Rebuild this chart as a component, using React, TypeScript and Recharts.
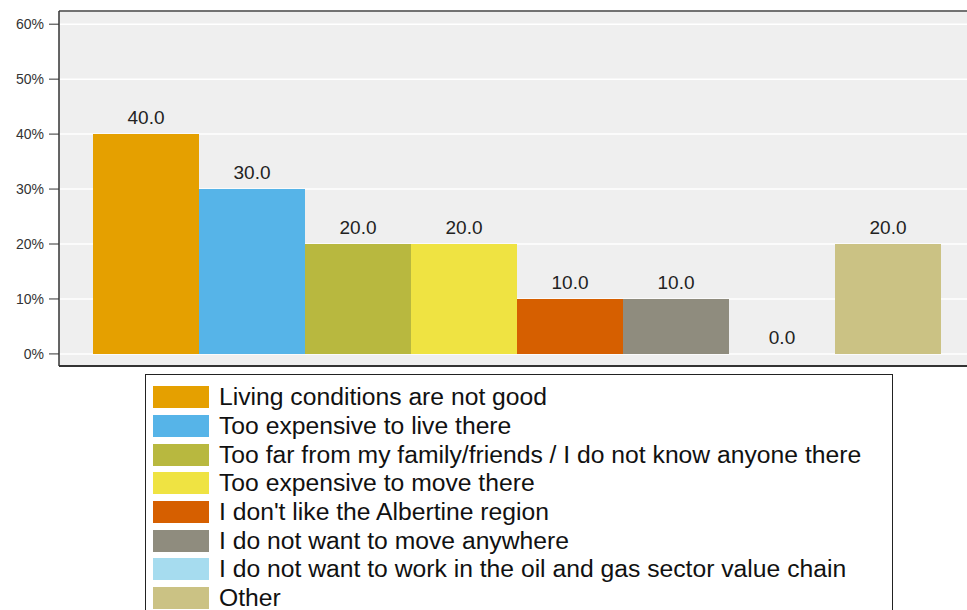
import { BarChart, Bar, XAxis, YAxis, CartesianGrid, Legend, LabelList, ReferenceLine } from "recharts"

const reasons = [
  "Living conditions are not good",
  "Too expensive to live there",
  "Too far from my family/friends / I do not know anyone there",
  "Too expensive to move there",
  "I don't like the Albertine region",
  "I do not want to move anywhere",
  "I do not want to work in the oil and gas sector value chain",
  "Other",
]
const shares = [40, 30, 20, 20, 10, 10, 0, 20]
const colors = ["#e5a000", "#56b4e8", "#b8b83f", "#efe342", "#d65f00", "#8f8c7e", "#a6dcef", "#cbc284"]
const yTicks = [0, 10, 20, 30, 40, 50, 60]
const yMin = -2.2
const yMax = 62.4

const row: Record<string, number | string> = { group: "" }
reasons.forEach((_, i) => {
  row[`s${i}`] = shares[i]
})
const data = [row]

const font = "'Liberation Sans', Arial, sans-serif"

function BoxLegend() {
  return (
    <div
      style={{
        border: "1px solid #222",
        background: "#fff",
        padding: "8px 0 0 7px",
        height: 260,
        boxSizing: "border-box",
        fontFamily: font,
      }}
    >
      {reasons.map((name, i) => (
        <div key={name} style={{ display: "flex", alignItems: "center", height: 28.7 }}>
          <span style={{ width: 56, height: 22, background: colors[i], marginRight: 10, flex: "none" }} />
          <span style={{ fontSize: 24.7, lineHeight: "28px", color: "#111", whiteSpace: "nowrap" }}>{name}</span>
        </div>
      ))}
    </div>
  )
}

export default function App() {
  return (
    <div style={{ width: 967, height: 610, overflow: "hidden", position: "relative", background: "#fff" }}>
      <style>{"body{margin:0}"}</style>
      <BarChart
        width={987}
        height={610}
        data={data}
        margin={{ top: 11, right: 11, bottom: 244, left: 0 }}
        barCategoryGap={34}
        barGap={0}
      >
        <CartesianGrid vertical={false} fill="#efefef" stroke="#ffffff" strokeWidth={1.5} />
        <XAxis dataKey="group" height={0} tick={false} tickLine={false} axisLine={false} />
        <YAxis
          type="number"
          domain={[yMin, yMax]}
          ticks={yTicks}
          allowDataOverflow
          width={59}
          tickSize={10}
          tickMargin={5}
          tickFormatter={(v) => `${v}%`}
          tick={{ fill: "#333", fontSize: 14, fontFamily: font }}
          tickLine={{ stroke: "#333" }}
          axisLine={{ stroke: "#333", strokeWidth: 1.5 }}
        />
        <ReferenceLine y={yMax} stroke="#444" strokeWidth={1.5} />
        <ReferenceLine y={yMin} stroke="#333" strokeWidth={2} />
        <Legend
          layout="vertical"
          align="center"
          verticalAlign="middle"
          content={<BoxLegend />}
          wrapperStyle={{ left: 145, top: 374, width: 748 }}
        />
        {reasons.map((name, i) => (
          <Bar
            key={name}
            dataKey={`s${i}`}
            name={name}
            fill={colors[i]}
            minPointSize={0.01}
            isAnimationActive={false}
          >
            <LabelList
              dataKey={`s${i}`}
              position="top"
              offset={10}
              fill="#222"
              fontSize={19}
              fontFamily={font}
              formatter={(v: unknown) => Number(v).toFixed(1)}
            />
          </Bar>
        ))}
      </BarChart>
    </div>
  )
}
